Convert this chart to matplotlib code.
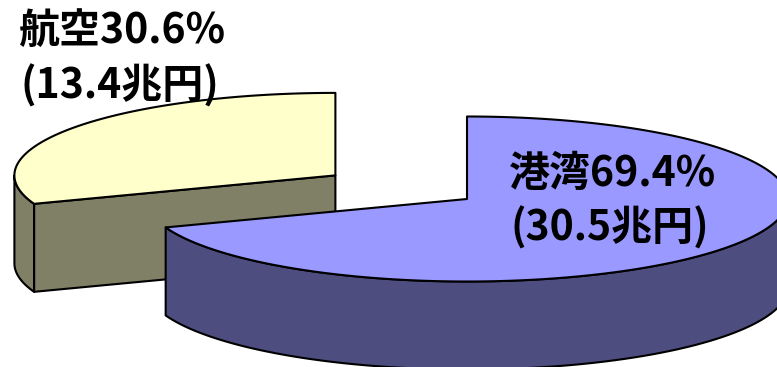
import numpy as np
import matplotlib
matplotlib.use("Agg")
import matplotlib.pyplot as plt
from matplotlib.patches import Polygon

# ---- data ----
categories = ["港湾", "航空"]
shares = [69.4, 30.6]          # percent
amounts = [30.5, 13.4]         # 兆円
explode = [0.0, 0.5]
top_colors = ["#9999FF", "#FFFFCC"]
side_colors = ["#4D4D80", "#808066"]

# ---- layout (pixel space) ----
W, H = 777, 367
cx0, cy0 = 467, 199     # pie centre (unexploded)
A, B = 321, 82.5        # ellipse semi axes
DEPTH = 88

fig = plt.figure(figsize=(W / 100, H / 100), dpi=100)
ax = fig.add_axes([0, 0, 1, 1])
ax.set_xlim(0, W)
ax.set_ylim(H, 0)
ax.axis("off")

EC = "black"
LW = 1.5


def pt(cx, cy, th, dz=0.0):
    """theta in degrees, clockwise from 12 o'clock"""
    r = np.radians(th)
    return cx + A * np.sin(r), cy - B * np.cos(r) + dz


def arc(cx, cy, t1, t2, dz=0.0, n=200):
    ts = np.linspace(t1, t2, n)
    xs, ys = pt(cx, cy, ts, dz)
    return np.column_stack([xs, ys])


# angles
total = sum(shares)
bounds = [0.0]
for s in shares:
    bounds.append(bounds[-1] + 360.0 * s / total)

slices = []
for i in range(len(shares)):
    t1, t2 = bounds[i], bounds[i + 1]
    mid = np.radians((t1 + t2) / 2)
    cx = cx0 + explode[i] * A * np.sin(mid)
    cy = cy0 - explode[i] * B * np.cos(mid)
    slices.append((i, t1, t2, cx, cy))

# draw back slices first (the one whose centre is higher on screen)
order = sorted(slices, key=lambda s: s[4])
for i, t1, t2, cx, cy in order:
    # radial faces turned toward the viewer
    for t, sign in ((t1, -1), (t2, 1)):
        r = np.radians(t)
        back = sign * (-np.sin(r))
        if back < -1e-6:
            px, py = pt(cx, cy, t)
            face = [(cx, cy), (px, py), (px, py + DEPTH), (cx, cy + DEPTH)]
            ax.add_patch(Polygon(face, closed=True, fc=side_colors[i],
                                 ec=EC, lw=LW, joinstyle="round"))
    # outer wall, front half (90..270 deg)
    lo, hi = max(t1, 90), min(t2, 270)
    if hi > lo:
        top = arc(cx, cy, lo, hi)
        bot = arc(cx, cy, lo, hi, DEPTH)[::-1]
        ax.add_patch(Polygon(np.vstack([top, bot]), closed=True,
                             fc=side_colors[i], ec=EC, lw=LW,
                             joinstyle="round"))
    # top surface
    top = np.vstack([[cx, cy], arc(cx, cy, t1, t2)])
    ax.add_patch(Polygon(top, closed=True, fc=top_colors[i], ec=EC,
                         lw=LW, joinstyle="round"))

# ---- labels ----
fam = ["Noto Sans CJK JP", "DejaVu Sans"]
label_pos = {"港湾": (509, 174, 228), "航空": (19, 31, 86)}
for cat, sh, am in zip(categories, shares, amounts):
    x, y1, y2 = label_pos[cat]
    ax.text(x, y1, f"{cat}{sh}%", family=fam, fontsize=29.5,
            fontweight="bold", ha="left", va="center", color="black")
    ax.text(x + 1, y2, f"({am}兆円)", family=fam, fontsize=29.5,
            fontweight="bold", ha="left", va="center", color="black")

fig.savefig("out.png", dpi=100)
